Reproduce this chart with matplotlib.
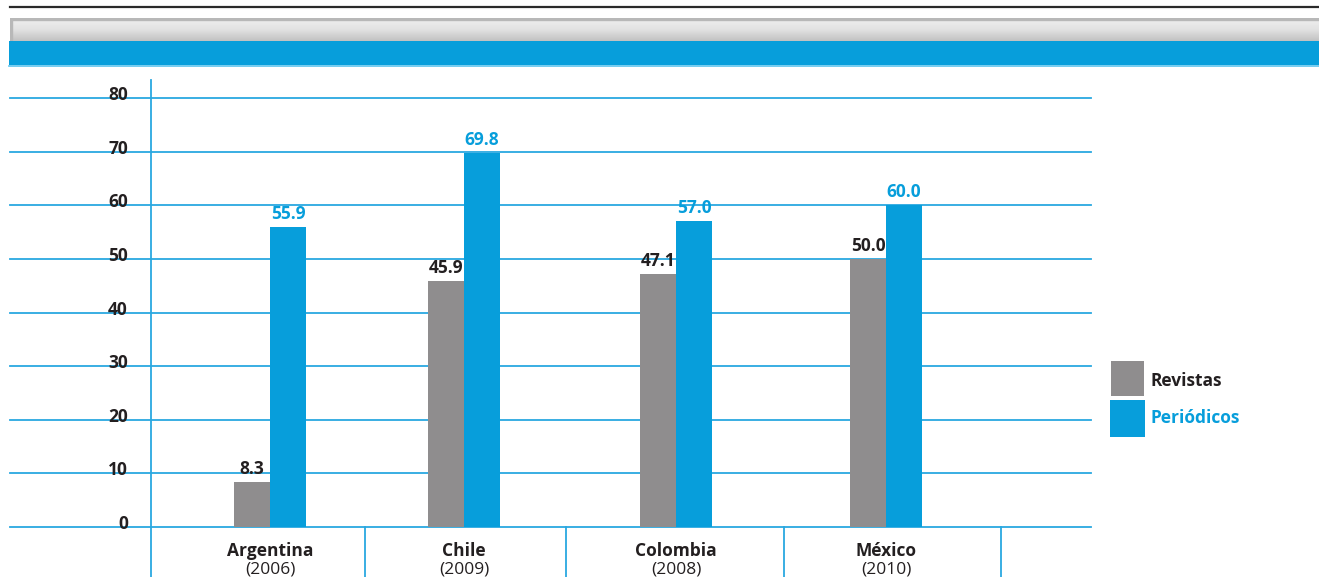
import numpy as np
import matplotlib.pyplot as plt
import matplotlib.transforms as mtransforms
from matplotlib.colors import LinearSegmentedColormap
from matplotlib.patches import Rectangle
from matplotlib.lines import Line2D

# ---- data -------------------------------------------------------------
countries = ["Argentina", "Chile", "Colombia", "México"]
years = ["(2006)", "(2009)", "(2008)", "(2010)"]
revistas = [8.3, 45.9, 47.1, 50.0]
periodicos = [55.9, 69.8, 57.0, 60.0]
y_ticks = [0, 10, 20, 30, 40, 50, 60, 70, 80]
series_names = ["Revistas", "Periódicos"]

# ---- style / layout ---------------------------------------------------
BLUE = "#079edb"
GRID_BLUE = "#2aa8e0"
GRAY = "#8f8d8e"
DARK = "#231f20"
FS = 12.5
WEIGHT = "bold"
plt.rcParams["font.family"] = ["Open Sans", "DejaVu Sans"]

group_x = [0.0, 0.945, 1.977, 3.0]          # horizontal slot of each country
separators_x = [0.4627, 1.4416, 2.5033, 3.5601]
bar_w = 0.175

W, H = 1319, 577
fig = plt.figure(figsize=(W / 100, H / 100), dpi=100)


def fx(px):
    return px / W


def fy(py):
    return 1 - py / H


# ---- header: rule, grey bevel strip, blue band ------------------------
fig.add_artist(Line2D([fx(10), fx(1319)], [fy(7), fy(7)], color="#2a2a2a",
                      lw=1.6, transform=fig.transFigure))
hdr = fig.add_axes([fx(10), fy(41), fx(1319) - fx(10), fy(18) - fy(41)])
grad = np.linspace(0, 1, 64).reshape(-1, 1)
hdr.imshow(grad, aspect="auto",
           cmap=LinearSegmentedColormap.from_list("bevel", ["#f0f0f0", "#e2e2e2", "#c2c2c2"]),
           extent=[0, 1, 0, 1])
hdr.add_patch(Rectangle((0, 0.9), 1, 0.1, color="#b8b8b8", transform=hdr.transAxes))
hdr.add_patch(Rectangle((0, 0), 0.0015, 1, color="#b8b8b8", transform=hdr.transAxes))
hdr.set_axis_off()
fig.add_artist(Rectangle((fx(9), fy(65)), fx(1319) - fx(9), fy(41) - fy(65),
                         color=BLUE, transform=fig.transFigure, lw=0))
fig.add_artist(Line2D([fx(9), fx(1319)], [fy(65.5), fy(65.5)], color="#5cc3ee",
                      lw=1.2, transform=fig.transFigure))

# ---- plot area --------------------------------------------------------
ax = fig.add_axes([fx(151), fy(527), fx(1091) - fx(151), fy(80) - fy(527)])
ax.set_xlim(-0.5796, 3.998)
ax.set_ylim(0, 83.36)
for s in ax.spines.values():
    s.set_visible(False)
ax.set_xticks([])
ax.set_yticks([])

# horizontal rules, running past the axis to the left, with their labels
hblend = mtransforms.blended_transform_factory(ax.transAxes, ax.transData)
x_left = (10 - 151) / (1091 - 151)
label_shift = mtransforms.ScaledTranslation(-23 / 100, -2 / 100, fig.dpi_scale_trans)
for t in y_ticks:
    ax.plot([x_left, 1], [t, t], color=GRID_BLUE, lw=1.3, transform=hblend,
            clip_on=False, zorder=1)
    ax.text(0, t, str(t), transform=hblend + label_shift, ha="right",
            va="baseline", fontsize=FS, fontweight=WEIGHT, color=DARK)

# vertical axis line, down to the bottom edge
fig.add_artist(Line2D([fx(151), fx(151)], [fy(80), 0], color=GRID_BLUE, lw=1.3,
                      transform=fig.transFigure))

# category separators below the base line
vblend = mtransforms.blended_transform_factory(ax.transData, ax.transAxes)
below = -(577 - 527) / (527 - 80)
for sx in separators_x:
    ax.plot([sx, sx], [0, below], color=GRID_BLUE, lw=1.3, transform=vblend,
            clip_on=False)

# bars
gx = np.array(group_x)
ax.bar(gx - bar_w / 2, revistas, bar_w, color=GRAY, zorder=2)
ax.bar(gx + bar_w / 2, periodicos, bar_w, color=BLUE, zorder=2)

for x, v in zip(gx - bar_w / 2, revistas):
    ax.annotate(f"{v:.1f}", (x, v), xytext=(0, 3), textcoords="offset points",
                ha="center", va="bottom", fontsize=FS, fontweight=WEIGHT,
                color=DARK)
for x, v in zip(gx + bar_w / 2, periodicos):
    ax.annotate(f"{v:.1f}", (x, v), xytext=(0, 3), textcoords="offset points",
                ha="center", va="bottom", fontsize=FS, fontweight=WEIGHT,
                color=BLUE)

# category labels
cblend = mtransforms.blended_transform_factory(ax.transData, fig.transFigure)
for x, c, yr in zip(gx, countries, years):
    ax.text(x, fy(555.5), c, transform=cblend, ha="center", va="baseline",
            fontsize=FS, fontweight=WEIGHT, color=DARK)
    ax.text(x, fy(574), yr, transform=cblend, ha="center", va="baseline",
            fontsize=FS, color=DARK)

# legend
fig.add_artist(Rectangle((fx(1111), fy(396)), fx(1144) - fx(1111), fy(361) - fy(396),
                         color=GRAY, transform=fig.transFigure, lw=0))
fig.add_artist(Rectangle((fx(1110), fy(437)), fx(1145) - fx(1110), fy(400) - fy(437),
                         color=BLUE, transform=fig.transFigure, lw=0))
fig.text(fx(1151), fy(381), series_names[0], ha="left", va="center",
         fontsize=FS, fontweight=WEIGHT, color=DARK)
fig.text(fx(1151), fy(418), series_names[1], ha="left", va="center",
         fontsize=FS, fontweight=WEIGHT, color=BLUE)

fig.savefig("out.png", dpi=100)
